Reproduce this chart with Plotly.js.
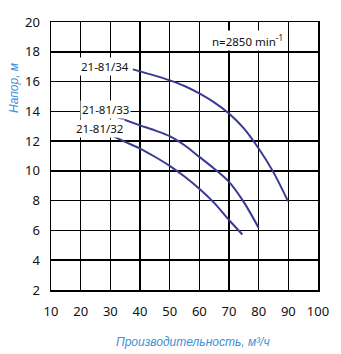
<!DOCTYPE html>
<html><head><meta charset="utf-8">
<script src="https://cdn.plot.ly/plotly-3.0.1.min.js"></script>
<style>html,body{margin:0;padding:0;background:#fff}#c{width:341px;height:354px}</style>
</head><body><div id="c"></div>
<script>
const seriesNames = ["21-81/34", "21-81/33", "21-81/32"];
const q34 = [37.6, 45, 50, 55, 60, 65, 70, 75, 80, 85, 89.9];
const h34 = [16.82, 16.4, 16.08, 15.7, 15.2, 14.6, 13.85, 12.85, 11.5, 9.9, 7.96];
const q33 = [32.2, 40, 45, 50, 55, 60, 65, 70, 75, 80];
const h33 = [13.62, 13.06, 12.72, 12.33, 11.72, 10.94, 10.15, 9.26, 7.9, 6.17];
const q32 = [30.85, 35, 40, 45, 50, 55, 60, 65, 70, 74.5];
const h32 = [12.33, 11.95, 11.5, 10.95, 10.34, 9.62, 8.8, 7.85, 6.7, 5.73];
const speedLabel = "n=2850 min<sup>-1</sup>";
const xTitle = "Производительность, м³/ч";
const yTitle = "Напор, м";

const lineColor = "#3a3a90";
const mk = (x, y, n) => ({x, y, name: n, type: "scatter", mode: "lines",
  line: {color: lineColor, width: 2, shape: "spline", smoothing: 0.8}, hoverinfo: "skip"});
const data = [mk(q34, h34, seriesNames[0]), mk(q33, h33, seriesNames[1]), mk(q32, h32, seriesNames[2])];

const axFont = {family: "Noto Sans, sans-serif", size: 13, color: "#111"};
const labelFont = {family: "Noto Sans, sans-serif", size: 11.5, color: "#111"};
const titleFont = {family: "Liberation Sans, Arial, sans-serif", size: 12, color: "#3d8fd8", style: "italic"};

const layout = {
  width: 341, height: 354,
  margin: {l: 51, r: 23, t: 22, b: 64},
  paper_bgcolor: "#fff", plot_bgcolor: "#fff",
  showlegend: false,
  xaxis: {range: [10, 100], dtick: 10, tick0: 10, showgrid: true, gridcolor: "#000", gridwidth: 1.5,
    showline: true, linecolor: "#000", linewidth: 1.5, mirror: true, zeroline: false,
    ticks: "", tickfont: axFont, ticklabelstandoff: 9},
  yaxis: {range: [2, 20], dtick: 2, tick0: 2, showgrid: true, gridcolor: "#000", gridwidth: 1.5,
    showline: true, linecolor: "#000", linewidth: 1.5, mirror: true, zeroline: false,
    ticks: "", tickfont: axFont, ticklabelstandoff: 7},
  annotations: [
    {x: 28.3, y: 17.03, text: seriesNames[0], showarrow: false, font: labelFont, bgcolor: "#fff"},
    {x: 28.4, y: 14.14, text: seriesNames[1], showarrow: false, font: labelFont, bgcolor: "#fff"},
    {x: 26.4, y: 12.87, text: seriesNames[2], showarrow: false, font: labelFont, bgcolor: "#fff"},
    {x: 76.4, y: 18.77, text: speedLabel, showarrow: false, font: labelFont, bgcolor: "#fff"},
    {xref: "paper", yref: "paper", x: (193 - 51) / 267, y: (290 - 342) / 268, text: xTitle,
      xanchor: "center", yanchor: "middle", showarrow: false, font: titleFont},
    {xref: "paper", yref: "paper", x: (14 - 51) / 267, y: (290 - 88) / 268, text: yTitle,
      xanchor: "center", yanchor: "middle", showarrow: false, font: titleFont, textangle: -90}
  ]
};
Plotly.newPlot("c", data, layout, {staticPlot: true, displayModeBar: false});
</script></body></html>
